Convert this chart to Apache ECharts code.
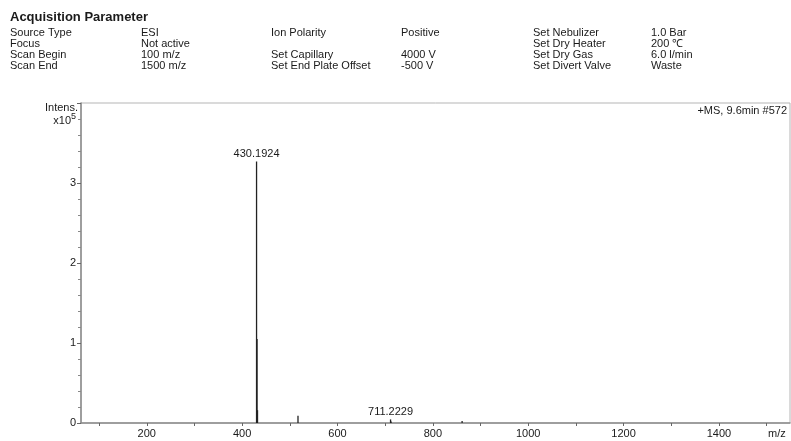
<!DOCTYPE html>
<html>
<head>
<meta charset="utf-8">
<script src="https://cdn.jsdelivr.net/npm/echarts@6/dist/echarts.min.js"></script>
<style>
  html, body { margin: 0; padding: 0; background: #fff; }
  #chart { width: 791px; height: 441px; }
</style>
</head>
<body>
<div id="chart"></div>
<script>
// Peak list of the mass spectrum: m/z and intensity (x10^5)
const peakMz        = [430.1924, 431.1950, 432.1980, 517.1, 711.2229, 712.2260, 861.3];
const peakIntensity = [3.27,     1.05,     0.16,     0.09,  0.045,    0.02,     0.025];
const labelledPeaks = [430.1924, 711.2229];

// Axis ranges and tick marks
const mzRange       = [62, 1549];
const mzLabelTicks  = [200, 400, 600, 800, 1000, 1200, 1400];
const mzMinorTicks  = [100, 200, 300, 400, 500, 600, 700, 800, 900, 1000, 1100, 1200, 1300, 1400, 1500];
const intensRange   = [0, 4];

// Header table: acquisition parameters
const paramCol1 = ['Source Type', 'Focus', 'Scan Begin', 'Scan End'];
const paramCol2 = ['ESI', 'Not active', '100 m/z', '1500 m/z'];
const paramCol3 = ['Ion Polarity', '', 'Set Capillary', 'Set End Plate Offset'];
const paramCol4 = ['Positive', '', '4000 V', '-500 V'];
const paramCol5 = ['Set Nebulizer', 'Set Dry Heater', 'Set Dry Gas', 'Set Divert Valve'];
const paramCol6 = ['1.0 Bar', '200 \u2103', '6.0 l/min', 'Waste'];
const spectrumTitle = '+MS, 9.6min #572';

const FONT = '"Liberation Sans", Arial, Helvetica, sans-serif';
const INK = '#1a1a1a';

const chart = echarts.init(document.getElementById('chart'), null, { renderer: 'canvas' });

// Header text elements
const graphics = [];
graphics.push({
  type: 'text', left: 10, top: 11,
  style: { text: 'Acquisition Parameter', font: 'bold 13px ' + FONT, fill: INK }
});
const colX = [10, 141, 271, 401, 533, 651];
const cols = [paramCol1, paramCol2, paramCol3, paramCol4, paramCol5, paramCol6];
const rowY = [27, 38, 49, 60];
cols.forEach((col, ci) => {
  col.forEach((txt, ri) => {
    if (!txt) return;
    graphics.push({
      type: 'text', left: colX[ci], top: rowY[ri],
      style: { text: txt, font: '11px ' + FONT, fill: INK }
    });
  });
});

// Y-axis title with power-of-ten exponent
graphics.push({
  type: 'text', right: 791 - 78, top: 102,
  style: { text: 'Intens.', font: '11px ' + FONT, fill: INK, align: 'right' }
});
graphics.push({
  type: 'text', right: 791 - 71, top: 115,
  style: { text: 'x10', font: '11px ' + FONT, fill: INK, align: 'right' }
});
graphics.push({
  type: 'text', left: 71, top: 112,
  style: { text: '5', font: '9px ' + FONT, fill: INK }
});
// Spectrum title at top right
graphics.push({
  type: 'text', right: 4, top: 105,
  style: { text: spectrumTitle, font: '11px ' + FONT, fill: INK, align: 'right' }
});
// x-axis unit
graphics.push({
  type: 'text', left: 768, top: 428,
  style: { text: 'm/z', font: '11px ' + FONT, fill: INK }
});

const seriesData = peakMz.map((mz, i) => {
  const item = { value: [mz, peakIntensity[i]] };
  if (labelledPeaks.includes(mz)) {
    item.label = {
      show: true, position: 'top', distance: 2,
      formatter: (p) => p.value[0].toFixed(4)
    };
  }
  return item;
});

chart.setOption({
  animation: false,
  backgroundColor: '#fff',
  grid: {
    left: 81, right: 1, top: 103, bottom: 18,
    show: true, borderColor: '#b5b5b5', borderWidth: 1
  },
  xAxis: {
    type: 'value',
    min: mzRange[0], max: mzRange[1],
    splitLine: { show: false },
    axisLine: { show: true, onZero: false, lineStyle: { color: '#8a8a8a', width: 1.5 } },
    axisTick: { show: true, customValues: mzMinorTicks, length: 3, lineStyle: { color: '#666' } },
    axisLabel: {
      customValues: mzLabelTicks, color: INK, fontFamily: FONT, fontSize: 11, margin: 5,
      formatter: (v) => String(v)
    }
  },
  yAxis: {
    type: 'value',
    min: intensRange[0], max: intensRange[1], interval: 1,
    splitLine: { show: false },
    axisLine: { show: true, lineStyle: { color: '#8a8a8a', width: 1.5 } },
    axisTick: { show: true, length: 4, lineStyle: { color: '#666' } },
    minorTick: { show: true, splitNumber: 5, length: 3, lineStyle: { color: '#888' } },
    axisLabel: {
      color: INK, fontFamily: FONT, fontSize: 11, margin: 5,
      formatter: (v) => (v >= intensRange[1] ? '' : String(v))
    }
  },
  series: [{
    type: 'bar',
    data: seriesData,
    barWidth: 1.3,
    itemStyle: { color: '#222' },
    label: { color: INK, fontFamily: FONT, fontSize: 11 },
    silent: true
  }],
  graphic: graphics
});
</script>
</body>
</html>
